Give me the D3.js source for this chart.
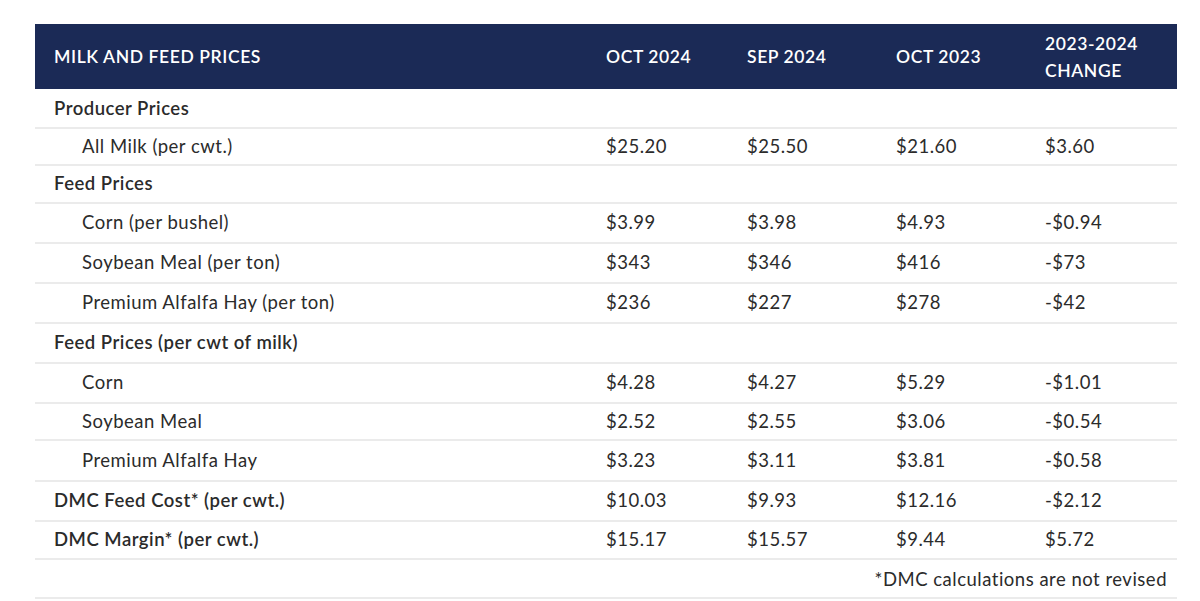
<!DOCTYPE html><html><head><meta charset="utf-8">
<script src="https://cdn.jsdelivr.net/npm/d3@7"></script>
<style>body{margin:0;background:#fff}</style></head><body><svg id="c" width="1200" height="601"></svg>
<script>
const headers=["MILK AND FEED PRICES","OCT 2024","SEP 2024","OCT 2023","2023-2024|CHANGE"];
const labels=["Producer Prices","All Milk (per cwt.)","Feed Prices","Corn (per bushel)","Soybean Meal (per ton)","Premium Alfalfa Hay (per ton)","Feed Prices (per cwt of milk)","Corn","Soybean Meal","Premium Alfalfa Hay","DMC Feed Cost* (per cwt.)","DMC Margin* (per cwt.)"];
const isSection=[1,0,1,0,0,0,1,0,0,0,1,1];
const oct2024=["","$25.20","","$3.99","$343","$236","","$4.28","$2.52","$3.23","$10.03","$15.17"];
const sep2024=["","$25.50","","$3.98","$346","$227","","$4.27","$2.55","$3.11","$9.93","$15.57"];
const oct2023=["","$21.60","","$4.93","$416","$278","","$5.29","$3.06","$3.81","$12.16","$9.44"];
const change=["","$3.60","","-$0.94","-$73","-$42","","-$1.01","-$0.54","-$0.58","-$2.12","$5.72"];
const footnote="*DMC calculations are not revised";

const svg=d3.select("#c");
const font="Lato, 'Open Sans', sans-serif";
const rowLines=[90,128,165,203,243,283,323,363,403,440,481,521,559];
const colX=[54,606,747,896,1045];
svg.append("rect").attr("x",35).attr("y",24).attr("width",1142).attr("height",65).attr("fill","#1b2a56");
headers.forEach((h,i)=>{
  const parts=h.split("|");
  const t=svg.append("text").attr("x",colX[i]).attr("fill","#fff").attr("font-family",font).attr("font-size",17.5).attr("font-weight",600).attr("letter-spacing",0.6);
  if(parts.length===1){t.attr("y",63).text(h);}
  else parts.forEach((p,j)=>t.append("tspan").attr("x",colX[i]).attr("y",50+j*27).text(p));
});
const cols=[oct2024,sep2024,oct2023,change];
labels.forEach((l,i)=>{
  const top=rowLines[i],bot=rowLines[i+1];
  const y=(top+bot)/2+6;
  svg.append("text").attr("x",isSection[i]?54:82).attr("y",y).attr("fill","#2b2b2b").attr("font-family",font)
    .attr("font-size",18.5).attr("font-weight",isSection[i]?600:400).attr("letter-spacing",0.5).text(l);
  cols.forEach((c,k)=>svg.append("text").attr("x",colX[k+1]).attr("y",y).attr("fill","#2b2b2b").attr("font-family",font).attr("font-size",18.5).attr("letter-spacing",0.5).text(c[i]));
  svg.append("line").attr("x1",35).attr("x2",1177).attr("y1",bot).attr("y2",bot).attr("stroke","#d8d8d8").attr("stroke-width",1.2);
});
svg.append("text").attr("x",1167).attr("y",586).attr("text-anchor","end").attr("fill","#2b2b2b").attr("font-family",font).attr("font-size",18.5).attr("letter-spacing",0.5).text(footnote);
svg.append("line").attr("x1",35).attr("x2",1177).attr("y1",598).attr("y2",598).attr("stroke","#d8d8d8").attr("stroke-width",1.2);
</script></body></html>
